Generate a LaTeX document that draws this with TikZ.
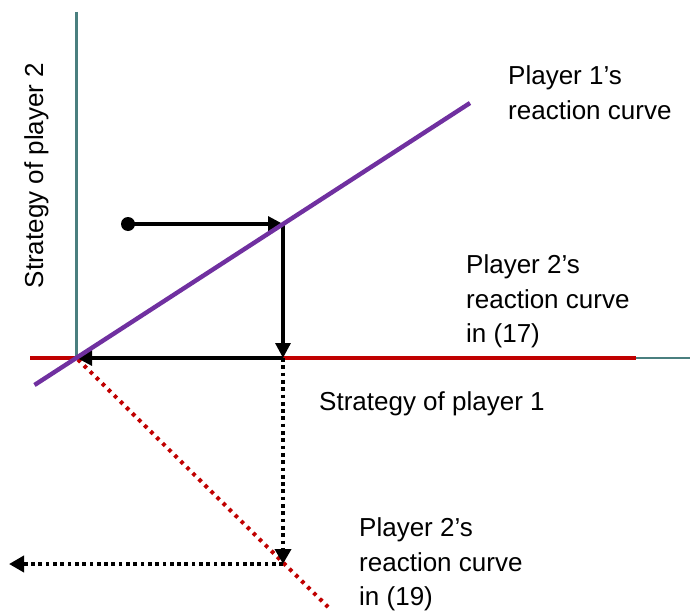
\documentclass[tikz,border=0pt]{standalone}
\usepackage{fontspec}
\setmainfont{Liberation Sans}
\usetikzlibrary{arrows.meta}
\definecolor{axisteal}{HTML}{4A7F7F}
\definecolor{curvered}{HTML}{C00000}
\definecolor{curvepurple}{HTML}{7030A0}
\tikzset{
  axisline/.style={draw=axisteal, line width=2.2pt},
  redcurve/.style={draw=curvered, line width=4.4pt},
  purplecurve/.style={draw=curvepurple, line width=4.4pt},
  reddotted/.style={draw=curvered, line width=4pt, dash pattern=on 3.6pt off 4.9pt},
  steparrow/.style={draw=black, line width=3.2pt, -{Triangle[length=15pt,width=15pt]}},
  dotarrow/.style={draw=black, line width=3.7pt, dash pattern=on 3.7pt off 3.6pt, -{Triangle[length=15pt,width=16pt]}},
  lbl/.style={inner sep=0pt, font=\fontsize{26}{34.5}\selectfont, align=left}
}
\begin{document}
\begin{tikzpicture}[x=1pt,y=-1pt]
\useasboundingbox (0,0) rectangle (690,610);
% coordinates
\coordinate (ytop) at (76.5,12);
\coordinate (O) at (76.5,358);
\coordinate (xend) at (690,358);
\coordinate (rl) at (30,358);
\coordinate (rr) at (636,358);
\coordinate (pa) at (34.5,385);
\coordinate (pb) at (470,103);
\coordinate (da) at (78,359.5);
\coordinate (db) at (328,607);
\coordinate (A) at (283,224);
\coordinate (B) at (283,358);
\coordinate (C) at (283,564);
\coordinate (Bl) at (77,358);
\coordinate (L) at (9,564);
% axes
\draw[axisline] (ytop) -- (O);
\draw[axisline] (O) -- (xend);
% curves
\draw[redcurve] (rl) -- (rr);
\draw[reddotted] (da) -- (db);
% steps
\node[circle, fill=black, inner sep=0pt, minimum size=14pt] (dot) at (128,224) {};
\draw[steparrow] (dot.center) -- (A);
\draw[steparrow] (A) -- (B);
\draw[steparrow] (B) -- (Bl);
\draw[purplecurve] (pa) -- (pb);
\draw[dotarrow] (B) -- (C);
\draw[dotarrow] (C) -- (L);
% labels
\node[lbl, anchor=north west] (p1) at (508,65.5) {Player 1’s\\reaction curve};
\node[lbl, anchor=north west] (p17) at (466,254.5) {Player 2’s\\reaction curve\\in (17)};
\node[lbl, anchor=north west] (p19) at (359,517.5) {Player 2’s\\reaction curve\\in (19)};
\node[lbl, anchor=base west] (sx) at (319,410) {Strategy of player 1};
\node[lbl, anchor=base, rotate=90] (sy) at (43,175.5) {Strategy of player 2};
\end{tikzpicture}
\end{document}
